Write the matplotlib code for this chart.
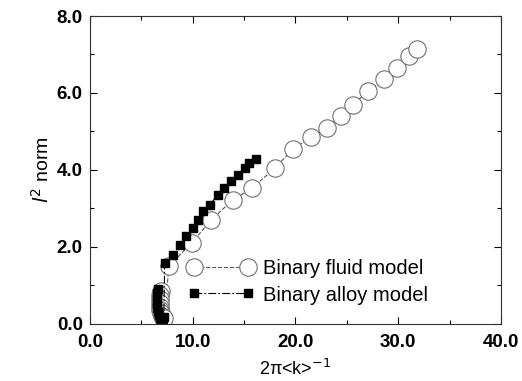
import matplotlib
matplotlib.use("Agg")
import matplotlib.pyplot as plt
from matplotlib.ticker import MultipleLocator

plt.rcParams['font.family'] = ['Liberation Sans', 'DejaVu Sans']

fluid_x = [6.9, 6.85, 6.8, 6.8, 6.8, 6.85, 6.9, 7.0, 7.1, 7.25,
           7.7, 9.9, 11.8, 13.9, 15.8, 18.0, 19.8, 21.5, 23.1, 24.4,
           25.6, 27.1, 28.6, 29.9, 31.0, 31.8]
fluid_y = [0.85, 0.75, 0.65, 0.55, 0.45, 0.35, 0.27, 0.2, 0.15, 0.15,
           1.5, 2.1, 2.7, 3.22, 3.53, 4.05, 4.55, 4.85, 5.1, 5.4,
           5.7, 6.05, 6.35, 6.65, 6.95, 7.15]

alloy_x = [6.6, 6.55, 6.55, 6.55, 6.55, 6.58, 6.62, 6.7, 6.8, 6.95, 7.1, 7.2,
           7.28, 8.09, 8.74, 9.39, 10.03, 10.5, 11.0, 11.65, 12.46, 13.1,
           13.76, 14.4, 15.05, 15.5, 16.2]
alloy_y = [0.9, 0.8, 0.7, 0.6, 0.5, 0.4, 0.3, 0.22, 0.15, 0.1, 0.12, 0.18,
           1.58, 1.79, 2.05, 2.27, 2.48, 2.70, 2.92, 3.09, 3.35, 3.52,
           3.70, 3.87, 4.04, 4.17, 4.28]

labels = ["Binary fluid model", "Binary alloy model"]
xticks = [0.0, 10.0, 20.0, 30.0, 40.0]
yticks = [0.0, 2.0, 4.0, 6.0, 8.0]

fig = plt.figure(figsize=(5.22, 3.81), dpi=100)
ax = fig.add_axes([0.172, 0.150, 0.788, 0.808])

ax.plot(fluid_x, fluid_y, linestyle='--', color='#555555', linewidth=0.8,
        marker='o', markersize=12.5, markerfacecolor='white',
        markeredgecolor='#707070', markeredgewidth=0.8, label=labels[0])
ax.plot(alloy_x, alloy_y, linestyle=(0, (7, 2, 1.5, 2)), color='black', linewidth=0.8,
        marker='s', markersize=6, markerfacecolor='black',
        markeredgecolor='black', label=labels[1])

ax.set_xlim(0, 40)
ax.set_ylim(0, 8)
ax.set_xticks(xticks)
ax.set_yticks(yticks)
ax.set_xticklabels([f"{v:.1f}" for v in xticks])
ax.set_yticklabels([f"{v:.1f}" for v in yticks])
ax.xaxis.set_minor_locator(MultipleLocator(5))
ax.yaxis.set_minor_locator(MultipleLocator(1))
ax.tick_params(which='both', direction='in', top=True, right=True,
               labelsize=13.5, width=0.8, colors='black')
ax.tick_params(which='major', length=5, pad=5)
ax.tick_params(axis='x', which='major', pad=7)
ax.tick_params(which='minor', length=3)
for lab in ax.get_xticklabels() + ax.get_yticklabels():
    lab.set_fontweight('bold')
for sp in ax.spines.values():
    sp.set_linewidth(0.8)
    sp.set_color('#333333')

ax.set_xlabel(r"2π<k>$^{-1}$", fontsize=13, labelpad=6)
ax.set_ylabel(r"$l^{2}$ norm", fontsize=14, labelpad=3)

ax.legend(loc='center left', bbox_to_anchor=(0.238, 0.136), frameon=False,
          borderpad=0, borderaxespad=0, numpoints=2, handlelength=3.3,
          handletextpad=0.45, labelspacing=0.35, fontsize=14.5)

fig.savefig("out.png", dpi=100)
